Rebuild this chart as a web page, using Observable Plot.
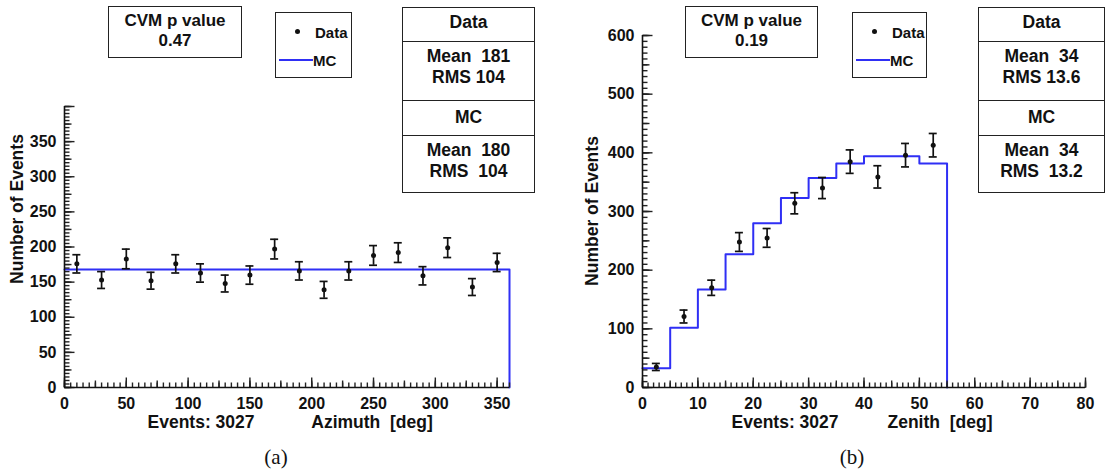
<!DOCTYPE html>
<html>
<head>
<meta charset="utf-8">
<script src="https://cdn.jsdelivr.net/npm/d3@7"></script>
<script src="https://cdn.jsdelivr.net/npm/@observablehq/plot@0.6"></script>
<style>
  body { margin: 0; background: #fff; }
  #fig { position: relative; width: 1106px; height: 474px; overflow: hidden;
         font-family: "Liberation Sans", Arial, sans-serif; font-weight: bold; color: #111; }
  .p { position: absolute; top: 0; }
  .box { position: absolute; border: 1.5px solid #222; background: #fff; box-sizing: border-box; }
  .sep { position: absolute; height: 0; border-top: 1.5px solid #222; }
  .t { position: absolute; white-space: pre; transform: translate(-50%, -50%); line-height: 1; }
  .l { position: absolute; white-space: pre; transform: translate(0, -50%); line-height: 1; }
  .cap { font-family: "Liberation Serif", "DejaVu Serif", serif; font-weight: normal; font-size: 21px; }
</style>
</head>
<body>
<div id="fig"></div>
<script>
// ---------- Panel (a): Azimuth ----------
const aCenters = [10, 30, 50, 70, 90, 110, 130, 150, 170, 190, 210, 230, 250, 270, 290, 310, 330, 350];
const aCounts  = [176, 153, 183, 152, 176, 163, 148, 160, 197, 166, 139, 166, 188, 192, 159, 199, 143, 178];
const aErrors  = [13, 12, 14, 12, 13, 13, 12, 13, 14, 13, 12, 13, 14, 14, 13, 14, 12, 13];
const aEdges   = [0, 20, 40, 60, 80, 100, 120, 140, 160, 180, 200, 220, 240, 260, 280, 300, 320, 340, 360];
const aMC      = [168, 168, 168, 168, 168, 168, 168, 168, 168, 168, 168, 168, 168, 168, 168, 168, 168, 168];
const aXTicks  = [0, 50, 100, 150, 200, 250, 300, 350];
const aYTicks  = [0, 50, 100, 150, 200, 250, 300, 350];
const aStats   = ["Data", "Mean  181", "RMS 104", "MC", "Mean  180", "RMS  104"];
const aCVM     = "0.47";
const aXTitle  = "Azimuth  [deg]";

// ---------- Panel (b): Zenith ----------
const bCenters = [2.5, 7.5, 12.5, 17.5, 22.5, 27.5, 32.5, 37.5, 42.5, 47.5, 52.5];
const bCounts  = [35, 121, 170, 248, 255, 314, 340, 385, 359, 396, 413];
const bErrors  = [6, 11, 13, 16, 16, 18, 18, 20, 19, 20, 20];
const bEdges   = [0, 5, 10, 15, 20, 25, 30, 35, 40, 45, 50, 55];
const bMC      = [33, 102, 167, 227, 280, 323, 357, 382, 394, 394, 382];
const bXTicks  = [0, 10, 20, 30, 40, 50, 60, 70, 80];
const bYTicks  = [0, 100, 200, 300, 400, 500, 600];
const bStats   = ["Data", "Mean  34", "RMS 13.6", "MC", "Mean  34", "RMS  13.2"];
const bCVM     = "0.19";
const bXTitle  = "Zenith  [deg]";

const eventsLabel = "Events: 3027";
const yTitle = "Number of Events";

const fig = document.getElementById("fig");
const BLUE = "#2f2ff5";
const INK = "#111";
const W = 553, H = 440, MB = 53;

function panel({left, mLeft, mRight, mTop, xDomain, yDomain, xMajor, xMedium, xMinor, yMajor, yMedium, yMinor,
                xTicks, yTicks, centers, counts, errors, edges, mc}) {
  const pts = centers.map((c, i) => ({x: c, y: counts[i], lo: counts[i] - errors[i], hi: counts[i] + errors[i]}));
  const step = edges.slice(0, -1).map((e, i) => ({x: e, y: mc[i]}));
  step.push({x: edges[edges.length - 1], y: 0});
  const rng = (d, s) => d3.range(d[0], d[1] + 1e-9, s);
  // inward tick marks: pixel lengths converted to data units
  const xUnit = (xDomain[1] - xDomain[0]) / (W - mLeft - mRight);
  const yUnit = (yDomain[1] - yDomain[0]) / (H - mTop - MB);
  const xTickData = [[xMinor, 5], [xMedium, 7], [xMajor, 10]].flatMap(([s, L]) =>
    rng(xDomain, s).map(v => ({x1: v, x2: v, y1: yDomain[0], y2: yDomain[0] + L * yUnit})));
  const yTickData = [[yMinor, 5], [yMedium, 7], [yMajor, 10]].flatMap(([s, L]) =>
    rng(yDomain, s).map(v => ({y1: v, y2: v, x1: xDomain[0], x2: xDomain[0] + L * xUnit})));
  const font = {fontSize: 16, fontWeight: "bold", fontFamily: "Liberation Sans, Arial, sans-serif", fill: INK};
  const chart = Plot.plot({
    width: W, height: H,
    marginLeft: mLeft, marginRight: mRight, marginTop: mTop, marginBottom: MB,
    x: {domain: xDomain},
    y: {domain: yDomain},
    style: {background: "transparent", overflow: "visible"},
    marks: [
      Plot.line(step, {x: "x", y: "y", curve: "step-after", stroke: BLUE, strokeWidth: 2}),
      Plot.ruleX(pts, {x: "x", y1: "lo", y2: "hi", stroke: INK, strokeWidth: 1.7}),
      Plot.ruleY(pts, {y: "lo", x1: "x", x2: "x", insetLeft: -4, insetRight: -4, stroke: INK, strokeWidth: 1.7}),
      Plot.ruleY(pts, {y: "hi", x1: "x", x2: "x", insetLeft: -4, insetRight: -4, stroke: INK, strokeWidth: 1.7}),
      Plot.dot(pts, {x: "x", y: "y", r: 2.5, fill: INK}),
      Plot.link(xTickData, {x1: "x1", x2: "x2", y1: "y1", y2: "y2", stroke: "#222", strokeWidth: 1.4}),
      Plot.link(yTickData, {x1: "x1", x2: "x2", y1: "y1", y2: "y2", stroke: "#222", strokeWidth: 1.4}),
      Plot.axisX({ticks: xTicks, tickSize: 0, tickPadding: 10, label: null, ...font}),
      Plot.axisY({ticks: yTicks, tickSize: 0, tickPadding: 8, label: null, ...font}),
      Plot.ruleX([xDomain[0]], {stroke: INK, strokeWidth: 1.6}),
      Plot.ruleY([yDomain[0]], {stroke: INK, strokeWidth: 1.6})
    ]
  });
  chart.classList.add("p");
  chart.style.left = left + "px";
  fig.appendChild(chart);
}

panel({left: 0, mLeft: 64, mRight: 44, mTop: 106, xDomain: [0, 360], yDomain: [0, 400],
       xMajor: 50, xMedium: 25, xMinor: 5, yMajor: 50, yMedium: 25, yMinor: 5,
       xTicks: aXTicks, yTicks: aYTicks, centers: aCenters, counts: aCounts, errors: aErrors, edges: aEdges, mc: aMC});
panel({left: 553, mLeft: 89, mRight: 21, mTop: 35, xDomain: [0, 80], yDomain: [0, 600],
       xMajor: 10, xMedium: 5, xMinor: 1, yMajor: 100, yMedium: 50, yMinor: 10,
       xTicks: bXTicks, yTicks: bYTicks, centers: bCenters, counts: bCounts, errors: bErrors, edges: bEdges, mc: bMC});

function el(cls, css, text) {
  const d = document.createElement("div");
  d.className = cls;
  Object.assign(d.style, css);
  if (text != null) d.textContent = text;
  fig.appendChild(d);
  return d;
}
function px(v) { return v + "px"; }

function annotations({cvmL, cvmR, cvm, legL, legR, stL, stR, stats, xTitle, eventsX, titleX, yTitleX, yTitleY, capX, cap}) {
  // CVM box
  el("box", {left: px(cvmL), top: "6px", width: px(cvmR - cvmL), height: "52px"});
  el("t", {left: px((cvmL + cvmR) / 2), top: "20px", fontSize: "17px"}, "CVM p value");
  el("t", {left: px((cvmL + cvmR) / 2), top: "40px", fontSize: "17px"}, cvm);
  // legend box
  el("box", {left: px(legL), top: "12px", width: px(legR - legL), height: "66px"});
  el("box", {left: px(legL + 20), top: "29px", width: "5px", height: "5px", background: INK, border: "none", borderRadius: "3px"});
  el("l", {left: px(legL + 40), top: "32px", fontSize: "15px"}, "Data");
  el("box", {left: px(legL + 4), top: "59px", width: "34px", height: "2px", background: BLUE, border: "none"});
  el("l", {left: px(legL + 38), top: "60px", fontSize: "15px"}, "MC");
  // stats box
  el("box", {left: px(stL), top: "7px", width: px(stR - stL), height: "186px"});
  [41, 100, 135].forEach(y => el("sep", {left: px(stL), top: px(y), width: px(stR - stL)}));
  const cx = (stL + stR) / 2;
  [23, 57, 78, 118, 151, 172].forEach((y, i) => el("t", {left: px(cx), top: px(y), fontSize: "17.5px"}, stats[i]));
  // axis titles
  el("t", {left: px(eventsX), top: "423px", fontSize: "17.5px"}, eventsLabel);
  el("t", {left: px(titleX), top: "423px", fontSize: "17.5px"}, xTitle);
  el("t", {left: px(yTitleX), top: px(yTitleY), fontSize: "17.5px", transform: "translate(-50%, -50%) rotate(-90deg)"}, yTitle);
  // caption
  el("t cap", {left: px(capX), top: "457px"}, cap);
}

annotations({cvmL: 108, cvmR: 242, cvm: aCVM, legL: 275, legR: 352, stL: 402, stR: 535, stats: aStats,
             xTitle: aXTitle, eventsX: 201, titleX: 372, yTitleX: 18, yTitleY: 209, capX: 276, cap: "(a)"});
annotations({cvmL: 685, cvmR: 818, cvm: bCVM, legL: 852, legR: 927, stL: 978, stR: 1105, stats: bStats,
             xTitle: bXTitle, eventsX: 785, titleX: 940, yTitleX: 593, yTitleY: 211, capX: 852, cap: "(b)"});
</script>
</body>
</html>
